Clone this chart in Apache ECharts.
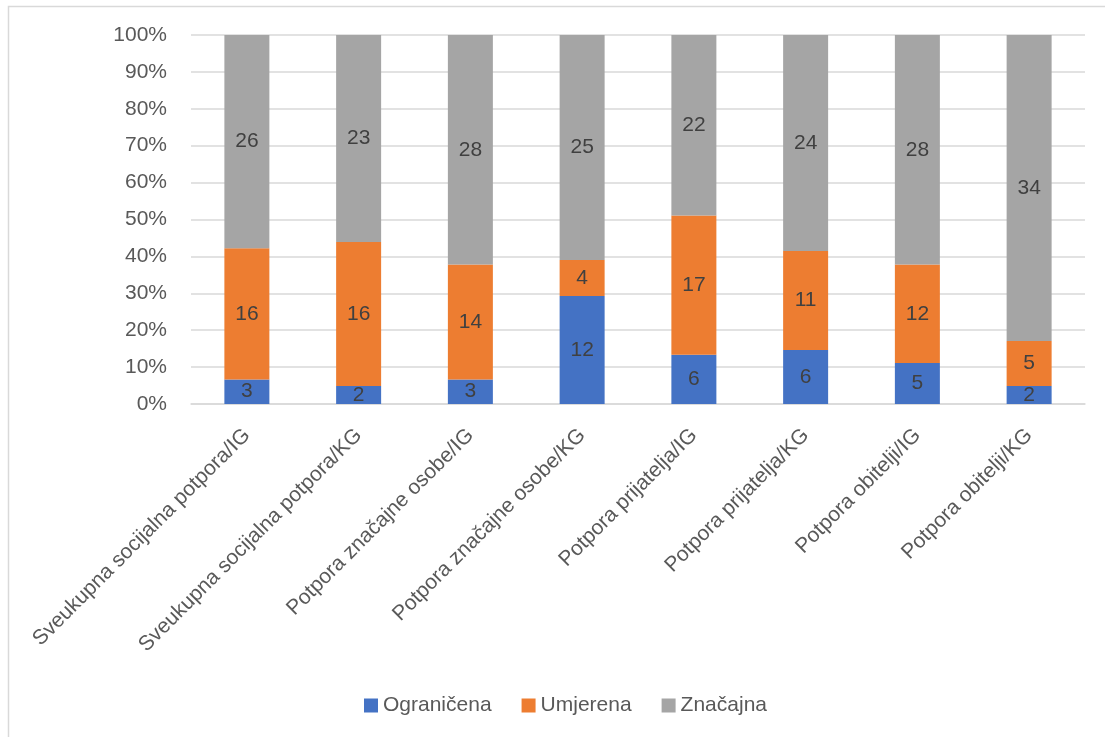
<!DOCTYPE html>
<html>
<head>
<meta charset="utf-8">
<script src="https://cdn.jsdelivr.net/npm/echarts@6/dist/echarts.min.js"></script>
<style>
  html, body { margin: 0; padding: 0; background: #fff; }
  #chart { width: 1105px; height: 737px; }
</style>
</head>
<body>
<div id="chart"></div>
<script>
const categories = [
  "Sveukupna socijalna potpora/IG",
  "Sveukupna socijalna potpora/KG",
  "Potpora značajne osobe/IG",
  "Potpora značajne osobe/KG",
  "Potpora prijatelja/IG",
  "Potpora prijatelja/KG",
  "Potpora obitelji/IG",
  "Potpora obitelji/KG"
]
const ogranicena = [3, 2, 3, 12, 6, 6, 5, 2]
const umjerena = [16, 16, 14, 4, 17, 11, 12, 5]
const znacajna = [26, 23, 28, 25, 22, 24, 28, 34]

const seriesNames = ["Ograničena", "Umjerena", "Značajna"]
const counts = [ogranicena, umjerena, znacajna]
const colors = ["#4472C4", "#ED7D31", "#A5A5A5"]

// 100% stacked: share of each group within a category
const totals = categories.map((c, i) => counts.reduce((s, arr) => s + arr[i], 0))
const toPercent = (arr) => arr.map((v, i) => (v / totals[i]) * 100)

const font = "'Liberation Sans', 'DejaVu Sans', sans-serif"

const myChart = echarts.init(document.getElementById("chart"))

const option = {
  animation: false,
  color: colors,
  textStyle: { fontFamily: font },
  graphic: [
    {
      type: "rect",
      shape: { x: 8.5, y: 6.5, width: 1200, height: 800 },
      style: { fill: "none", stroke: "#d9d9d9", lineWidth: 1.5 },
      silent: true
    }
  ],
  grid: {
    left: 191,
    right: 20,
    top: 35,
    bottom: 333,
    containLabel: false
  },
  legend: {
    bottom: 16,
    left: 359,
    itemWidth: 14,
    itemHeight: 14,
    itemGap: 30,
    icon: "rect",
    textStyle: { color: "#595959", fontSize: 21, fontFamily: font }
  },
  xAxis: {
    type: "category",
    data: categories,
    axisLine: { show: true, lineStyle: { color: "#d9d9d9", width: 1.5 } },
    axisTick: { show: false },
    axisLabel: {
      rotate: 45,
      interval: 0,
      margin: 28,
      color: "#595959",
      fontSize: 21,
      fontFamily: font
    }
  },
  yAxis: {
    type: "value",
    min: 0,
    max: 100,
    interval: 10,
    axisLine: { show: false },
    axisTick: { show: false },
    splitLine: { lineStyle: { color: "#d9d9d9", width: 1.5 } },
    axisLabel: {
      formatter: "{value}%",
      margin: 24,
      color: "#595959",
      fontSize: 21,
      fontFamily: font
    }
  },
  series: seriesNames.map((name, si) => ({
    name: name,
    type: "bar",
    stack: "total",
    barWidth: 45,
    data: toPercent(counts[si]),
    label: {
      show: true,
      position: "inside",
      color: "#404040",
      fontSize: 21,
      fontFamily: font,
      formatter: (p) => String(counts[si][p.dataIndex])
    }
  }))
}

myChart.setOption(option)
</script>
</body>
</html>
